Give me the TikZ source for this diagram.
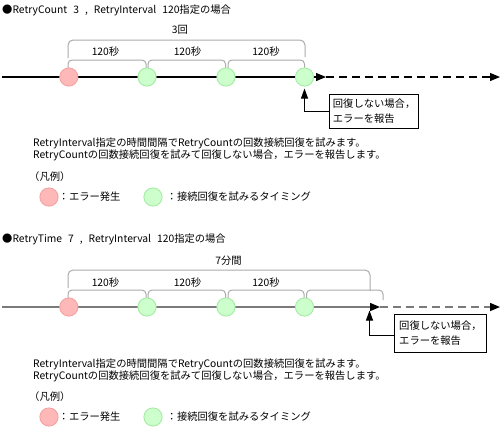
\documentclass[tikz,border=0pt]{standalone}
\usepackage{fontspec}
\setmainfont{Noto Sans CJK JP}
\usetikzlibrary{arrows.meta}
\definecolor{errfill}{HTML}{FFB8B8}
\definecolor{errdraw}{HTML}{F4A3A3}
\definecolor{okfill}{HTML}{CCFFCC}
\definecolor{okdraw}{HTML}{A6EBA6}
\definecolor{brk}{HTML}{ABABAB}
\definecolor{tlgrey}{HTML}{7A7A7A}
\begin{document}
\begin{tikzpicture}[x=1pt,y=-1pt,
  font=\fontsize{10.3}{15}\selectfont,
  txt/.style={inner sep=0pt, text height=8.6pt, text depth=1.4pt},
  lbl/.style={txt, anchor=west},
  errc/.style={circle, draw=errdraw, fill=errfill, line width=0.9pt, minimum size=18.2pt, inner sep=0pt},
  okc/.style={circle, draw=okdraw, fill=okfill, line width=0.9pt, minimum size=18.2pt, inner sep=0pt},
  brace/.style={draw=brk, line width=1pt, rounded corners=5pt},
  ibrace/.style={draw=brk, line width=1pt, rounded corners=4pt},
  reportbox/.style={draw=black, line width=0.8pt, align=left, inner xsep=3.5pt, anchor=north west},
  tlblack/.style={line width=1.2pt, draw=black},
  tlgray/.style={line width=1.4pt, draw=tlgrey},
  htip/.style={-{Triangle[length=10pt,width=8pt,color=black]}},
  dashline/.style={dash pattern=on 8pt off 5pt},
  uparr/.style={draw=black, line width=0.8pt, -{Triangle[length=10pt,width=7pt]}}
]
\useasboundingbox (0,0) rectangle (503,432);

% ================= top =================
\node[lbl] (title1) at (2,9.5) {●RetryCount\hspace{6pt}3\hspace{6pt},\hspace{6pt}RetryInterval\hspace{6pt}120指定の場合};
\node[txt] (cnt) at (180,29.5) {3回};
\draw[brace] (68,58) -- (68,40) -- (305,40) -- (305,57);
\draw[ibrace] (68,68) -- (68,60) -- (146,60) -- (146,68);
\draw[ibrace] (148,68) -- (148,60) -- (225.5,60) -- (225.5,68);
\draw[ibrace] (228,68) -- (228,60) -- (304.5,60) -- (304.5,68);
\node[txt] (s1) at (105.5,51.7) {120秒};
\node[txt] (s2) at (187.5,51.7) {120秒};
\node[txt] (s3) at (266,51.7) {120秒};

\coordinate (a0) at (2,77);
\coordinate (a1) at (326,77);
\coordinate (a2) at (500,77);
\draw[tlblack, htip] (a0) -- (a1);
\draw[tlblack, dashline, htip] (a1) -- (a2);
\node[errc] (e1) at (68.8,77) {};
\node[okc] (g1) at (147,77) {};
\node[okc] (g2) at (226,77) {};
\node[okc] (g3) at (304.5,77) {};

\node[reportbox, minimum width=89pt, minimum height=34pt] (r1) at (329,93.5) {回復しない場合，\\エラーを報告};
\draw[uparr, shorten >=2pt] (r1.west) -| (g3.south);

\node[lbl] (p1a) at (33,142.5) {RetryInterval指定の時間間隔でRetryCountの回数接続回復を試みます。};
\node[lbl] (p1b) at (33,154.5) {RetryCountの回数接続回復を試みて回復しない場合，エラーを報告します。};
\node[lbl] (leg1) at (29,176.5) {（凡例）};
\node[errc] (le1) at (49,197) {};
\node[lbl] (lt1) at (58.5,197) {：エラー発生};
\node[okc] (lg1) at (153,197) {};
\node[lbl] (lt2) at (166.5,197) {：接続回復を試みるタイミング};

% ================= bottom =================
\node[lbl] (title2) at (2,239) {●RetryTime\hspace{6pt}7\hspace{6pt},\hspace{6pt}RetryInterval\hspace{6pt}120指定の場合};
\node[txt] (dur) at (228.5,260.7) {7分間};
\draw[brace] (68,288) -- (68,270) -- (370,270) -- (370,291);
\draw[ibrace] (68,298) -- (68,290) -- (146,290) -- (146,298);
\draw[ibrace] (148,298) -- (148,290) -- (225.5,290) -- (225.5,298);
\draw[ibrace] (228,298) -- (228,290) -- (304,290) -- (304,298);
\draw[ibrace] (306.5,298) -- (306.5,290) -- (383,290) -- (383,300);
\node[txt] (t1) at (105.5,283.3) {120秒};
\node[txt] (t2) at (187.5,283.3) {120秒};
\node[txt] (t3) at (266,283.3) {120秒};

\coordinate (b0) at (2,307);
\coordinate (b1) at (380,307);
\coordinate (b2) at (500,307);
\draw[tlgray, htip] (b0) -- (b1);
\draw[tlgray, dashline, htip] (b1) -- (b2);
\node[errc] (e2) at (68.8,307) {};
\node[okc] (h1) at (147,307) {};
\node[okc] (h2) at (226,307) {};
\node[okc] (h3) at (304.5,307) {};

\node[reportbox, minimum width=92pt, minimum height=38pt] (r2) at (394,314) {回復しない場合，\\エラーを報告};
\coordinate (up2) at (369.5,307);
\draw[uparr, shorten >=3.5pt] ([yshift=-2pt]r2.west) -| (up2);

\node[lbl] (p2a) at (33,364) {RetryInterval指定の時間間隔でRetryCountの回数接続回復を試みます。};
\node[lbl] (p2b) at (33,376) {RetryCountの回数接続回復を試みて回復しない場合，エラーを報告します。};
\node[lbl] (leg2) at (29,397) {（凡例）};
\node[errc] (le2) at (49,417) {};
\node[lbl] (lt3) at (58.5,417) {：エラー発生};
\node[okc] (lg2) at (153,417) {};
\node[lbl] (lt4) at (166.5,417) {：接続回復を試みるタイミング};
\end{tikzpicture}
\end{document}
